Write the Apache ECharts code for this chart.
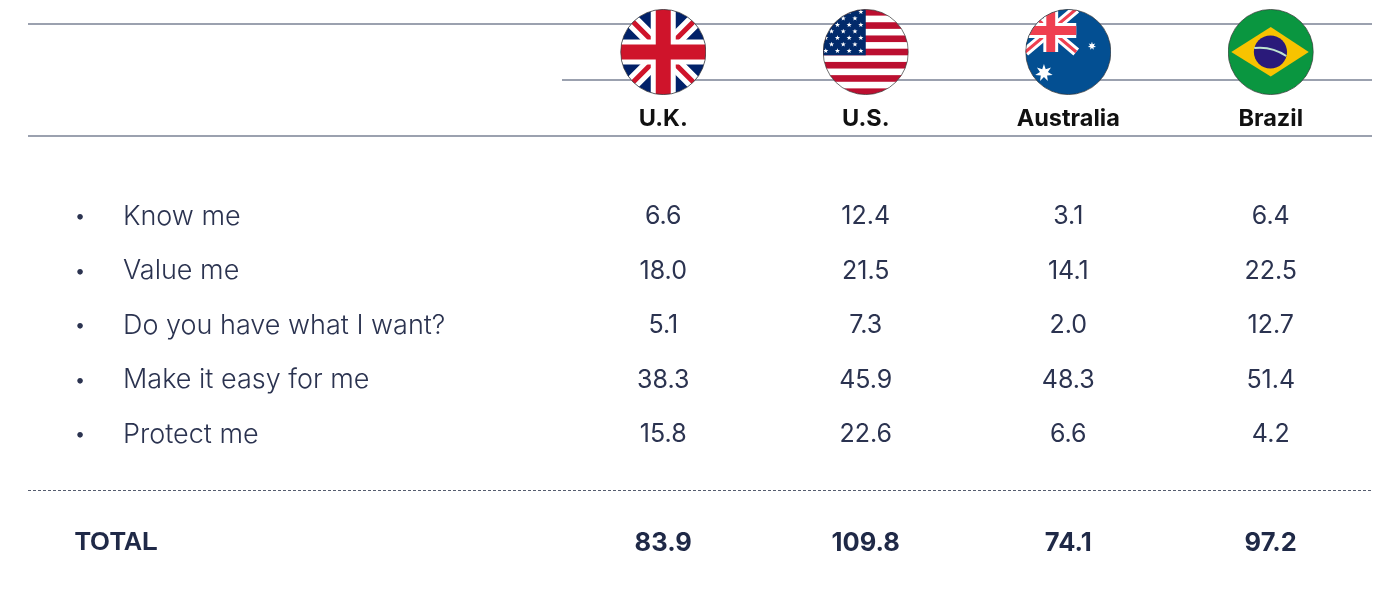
<!DOCTYPE html>
<html>
<head>
<meta charset="utf-8">
<style>
  html, body { margin: 0; background: #fff; }
  #main { width: 1378px; height: 612px; }
</style>
<script src="https://cdn.jsdelivr.net/npm/echarts@6/dist/echarts.min.js"></script>
</head>
<body>
<div id="main"></div>
<script>
var countries = ['U.K.', 'U.S.', 'Australia', 'Brazil'];
var rows = ['Know me', 'Value me', 'Do you have what I want?', 'Make it easy for me', 'Protect me', '', 'TOTAL'];
var ukValues = ['6.6', '18.0', '5.1', '38.3', '15.8', null, '83.9'];
var usValues = ['12.4', '21.5', '7.3', '45.9', '22.6', null, '109.8'];
var auValues = ['3.1', '14.1', '2.0', '48.3', '6.6', null, '74.1'];
var brValues = ['6.4', '22.5', '12.7', '51.4', '4.2', null, '97.2'];
var columns = [ukValues, usValues, auValues, brValues];

var textColor = '#2b3350';
var totalColor = '#1f2947';
var ruleColor = '#7a8294';
var bodyFont = 'Inter';

// flags are small inline svg's, clipped to a circle
function star(cx, cy, r, n, inner) {
  var pts = [];
  for (var i = 0; i < n * 2; i++) {
    var a = -Math.PI / 2 + i * Math.PI / n;
    var rr = i % 2 ? r * inner : r;
    pts.push((cx + rr * Math.cos(a)).toFixed(2) + ',' + (cy + rr * Math.sin(a)).toFixed(2));
  }
  return '<polygon fill="#fff" points="' + pts.join(' ') + '"/>';
}

function jack(w, h, navy, red) {
  var k = w / 86;
  return '<rect width="' + w + '" height="' + h + '" fill="' + navy + '"/>' +
    '<path d="M0 0L' + w + ' ' + h + 'M' + w + ' 0L0 ' + h + '" stroke="#fff" stroke-width="' + 15 * k + '"/>' +
    '<path d="M0 0L' + w + ' ' + h + 'M' + w + ' 0L0 ' + h + '" stroke="' + red + '" stroke-width="' + 5 * k + '"/>' +
    '<path d="M' + w / 2 + ' 0V' + h + 'M0 ' + h / 2 + 'H' + w + '" stroke="#fff" stroke-width="' + 25 * k + '"/>' +
    '<path d="M' + w / 2 + ' 0V' + h + 'M0 ' + h / 2 + 'H' + w + '" stroke="' + red + '" stroke-width="' + 15 * k + '"/>';
}

function usFlag() {
  var s = '<rect width="86" height="86" fill="#fff"/>';
  for (var i = 0; i < 7; i++) {
    s += '<rect y="' + i * 2 * 86 / 13 + '" width="86" height="' + 86 / 13 + '" fill="#bb0f30"/>';
  }
  s += '<rect width="43" height="46.3" fill="#012a6b"/>';
  for (var r = 0; r < 7; r++) {
    for (var c = 0; c < (r % 2 ? 3 : 4); c++) {
      s += star((r % 2 ? 8.8 : 3) + c * 11.7, 2.9 + r * 6.5, 2.7, 5, 0.42);
    }
  }
  return s;
}

function auFlag() {
  return '<rect width="86" height="86" fill="#034f92"/>' + jack(51, 43, '#034f92', '#ef4050') +
    star(18.7, 64, 9, 7, 0.45) + star(66.7, 37, 4.2, 7, 0.45);
}

function brFlag() {
  return '<rect width="86" height="86" fill="#0a9640"/>' +
    '<polygon fill="#f8c300" points="3.5,43 43,18 81,43 43,67.5"/>' +
    '<circle cx="42.7" cy="43" r="16.6" fill="#2a1a7a"/>' +
    '<path d="M26.5 39Q44 37 58.5 47" fill="none" stroke="#bfe3d0" stroke-width="2"/>';
}

function flagSymbol(body) {
  var svg = '<svg xmlns="http://www.w3.org/2000/svg" width="172" height="172" viewBox="0 0 86 86">' +
    '<defs><clipPath id="c"><circle cx="43" cy="43" r="42.6"/></clipPath></defs>' +
    '<g clip-path="url(#c)">' + body + '</g>' +
    '<circle cx="43" cy="43" r="42.6" fill="none" stroke="#333" stroke-width="0.7"/></svg>';
  return 'image://data:image/svg+xml;charset=utf-8,' + encodeURIComponent(svg);
}

var flags = [flagSymbol(jack(86, 86, '#012169', '#cf142b')), flagSymbol(usFlag()), flagSymbol(auFlag()), flagSymbol(brFlag())];

var valueSeries = columns.map(function (vals, i) {
  return {
    type: 'scatter',
    xAxisIndex: 0,
    yAxisIndex: 0,
    symbolSize: 0,
    silent: true,
    itemStyle: { opacity: 1 },
    data: vals.map(function (v, r) { return v === null ? null : [countries[i], rows[r], v]; }).filter(Boolean),
    label: {
      show: true,
      position: 'inside',
      opacity: 1,
      formatter: function (p) {
        return p.value[1] === 'TOTAL' ? '{t|' + p.value[2] + '}' : '{v|' + p.value[2] + '}';
      },
      rich: {
        v: { fontFamily: bodyFont, fontWeight: 400, fontSize: 25, color: textColor },
        t: { fontFamily: bodyFont, fontWeight: 700, fontSize: 25.5, color: totalColor }
      }
    }
  };
});

var flagSeries = {
  type: 'scatter',
  xAxisIndex: 1,
  yAxisIndex: 1,
  symbolSize: 86,
  silent: true,
  clip: false,
  itemStyle: { opacity: 1 },
  data: countries.map(function (c, i) { return { value: [c, 'flag'], symbol: flags[i] }; })
};

function rule(x1, x2, y, dashed) {
  return {
    type: 'line',
    z: 0,
    silent: true,
    shape: { x1: x1, y1: y, x2: x2, y2: y },
    style: dashed
      ? { stroke: '#555c6e', lineWidth: 1, lineDash: [3, 2] }
      : { stroke: ruleColor, lineWidth: 1.5 }
  };
}

var myChart = echarts.init(document.getElementById('main'), null, { renderer: 'canvas' });

var option = {
  animation: false,
  backgroundColor: '#fff',
  graphic: [
    rule(28, 1372, 24),
    rule(562, 1372, 80),
    rule(28, 1372, 136),
    rule(28, 1372, 490.5, true)
  ],
  grid: [
    { left: 562, width: 810, top: 189.6, height: 381 },
    { left: 562, width: 810, top: 10, height: 84 }
  ],
  xAxis: [
    { type: 'category', gridIndex: 0, data: countries, show: false },
    {
      type: 'category',
      gridIndex: 1,
      data: countries,
      axisLine: { show: false },
      axisTick: { show: false },
      axisLabel: { margin: 13, fontFamily: bodyFont, fontWeight: 700, fontSize: 23.5, color: '#111' }
    }
  ],
  yAxis: [
    {
      type: 'category',
      gridIndex: 0,
      inverse: true,
      data: rows,
      axisLine: { show: false },
      axisTick: { show: false },
      axisLabel: {
        margin: 487,
        align: 'left',
        formatter: function (v) {
          if (!v) return '';
          return v === 'TOTAL' ? '{t|' + v + '}' : '{b|•}{n|' + v + '}';
        },
        rich: {
          b: { width: 48, fontFamily: bodyFont, fontSize: 18, color: textColor },
          n: { fontFamily: bodyFont, fontWeight: 300, fontSize: 27, color: textColor },
          t: { fontFamily: 'Liberation Sans', fontWeight: 700, fontSize: 25.5, color: totalColor }
        }
      }
    },
    { type: 'category', gridIndex: 1, data: ['flag'], show: false }
  ],
  series: valueSeries.concat([flagSeries])
};

myChart.setOption(option);
</script>
</body>
</html>
